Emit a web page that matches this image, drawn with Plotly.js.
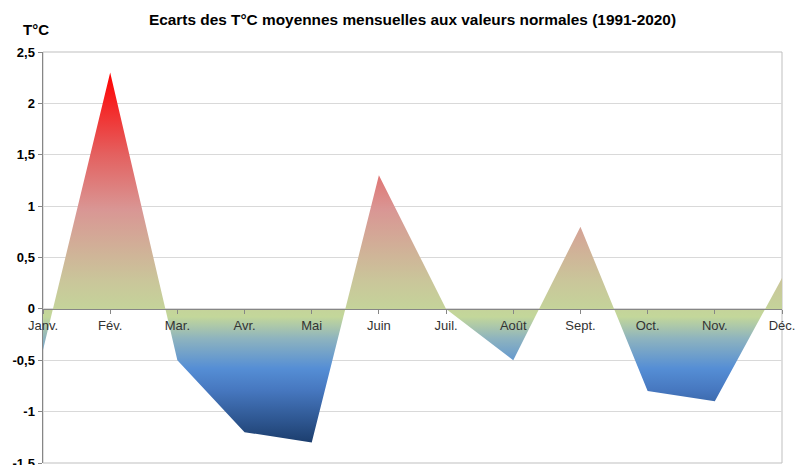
<!DOCTYPE html>
<html>
<head>
<meta charset="utf-8">
<script src="https://cdn.plot.ly/plotly-3.0.1.min.js"></script>
<style>
  html, body { margin: 0; padding: 0; background: #fff; }
  #chart { width: 796px; height: 465px; }
</style>
</head>
<body>
<div id="chart"></div>
<script>
// ---- data ----
const months = ["Janv.", "Fév.", "Mar.", "Avr.", "Mai", "Juin", "Juil.", "Août", "Sept.", "Oct.", "Nov.", "Déc."];
const ecarts = [-0.4, 2.3, -0.5, -1.2, -1.3, 1.3, 0, -0.5, 0.8, -0.8, -0.9, 0.3];
const yTicks = [-1.5, -1, -0.5, 0, 0.5, 1, 1.5, 2, 2.5];

const titleText = "Ecarts des T°C moyennes mensuelles aux valeurs normales (1991-2020)";
const unitText = "T°C";

const yMin = -1.5, yMax = 2.5;

// gradient: dark blue at the bottom, green near zero, red at the top
const gradScale = [
  [0.00, "#1c3e6e"],
  [0.14, "#4677bf"],
  [0.20, "#558ed5"],
  [0.28, "#8db3bf"],
  [0.34, "#c3d79a"],
  [0.44, "#cac59a"],
  [0.63, "#d99694"],
  [0.78, "#e4605f"],
  [1.00, "#ff0000"]
];

const trace = {
  type: "scatter",
  mode: "lines",
  x: months,
  y: ecarts,
  fill: "tozeroy",
  line: { width: 0, color: "rgba(0,0,0,0)" },
  fillgradient: {
    type: "vertical",
    colorscale: gradScale,
    start: Math.min(...ecarts),
    stop: Math.max(...ecarts)
  },
  hoverinfo: "skip",
  showlegend: false
};

const layout = {
  width: 796,
  height: 465,
  margin: { l: 43, r: 14, t: 52, b: 2 },
  paper_bgcolor: "#fff",
  plot_bgcolor: "#fff",
  separators: ",.",
  font: { family: "Liberation Sans, Arial, sans-serif", color: "#000" },
  title: {
    text: "<b>" + titleText + "</b>",
    font: { size: 15.4, color: "#000" },
    x: 0.5, xref: "paper", xanchor: "center",
    y: 0.958, yanchor: "middle"
  },
  xaxis: {
    type: "category",
    categoryorder: "array",
    categoryarray: months,
    range: [0, months.length - 1],
    anchor: "free",
    position: (0 - yMin) / (yMax - yMin),
    showline: true,
    linecolor: "#868686",
    linewidth: 1.5,
    ticks: "outside",
    ticklen: 4,
    tickcolor: "#868686",
    tickfont: { size: 13, color: "#333" },
    showgrid: false,
    zeroline: false,
    fixedrange: true
  },
  yaxis: {
    range: [yMin, yMax],
    tickvals: yTicks,
    ticktext: yTicks.map(v => "<b>" + String(v).replace(".", ",") + "</b>"),
    tickfont: { size: 13, color: "#000" },
    ticklabeloverflow: "allow",
    showline: true,
    linecolor: "#868686",
    linewidth: 1.5,
    ticks: "outside",
    ticklen: 4,
    tickcolor: "#868686",
    showgrid: true,
    gridcolor: "#d9d9d9",
    gridwidth: 1,
    zeroline: false,
    fixedrange: true
  },
  shapes: [{
    type: "rect", xref: "paper", yref: "paper",
    x0: 0, x1: 1, y0: 0, y1: 1,
    line: { color: "#bfbfbf", width: 1 },
    layer: "below"
  }],
  annotations: [{
    text: "<b>" + unitText + "</b>",
    xref: "paper", yref: "paper",
    x: -0.009, y: 1.055,
    xanchor: "center", yanchor: "middle",
    showarrow: false,
    font: { size: 15, color: "#000" }
  }]
};

Plotly.newPlot("chart", [trace], layout, { displayModeBar: false, staticPlot: true });
</script>
</body>
</html>
